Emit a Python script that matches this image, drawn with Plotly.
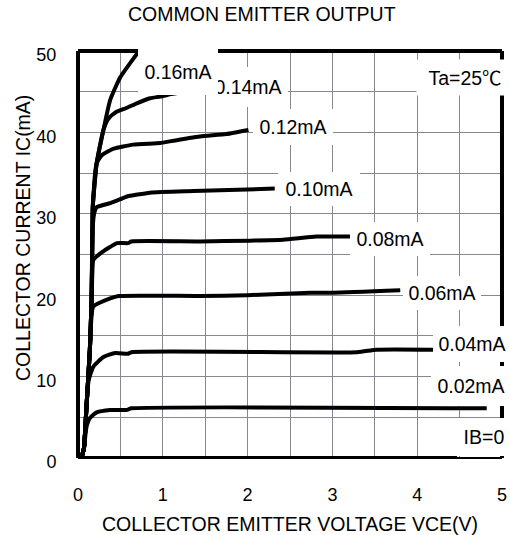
import plotly.graph_objects as go

# ---- data (VCE in V, IC in mA) ----
ib_labels = ["0.16mA", "0.14mA", "0.12mA", "0.10mA", "0.08mA", "0.06mA", "0.04mA", "0.02mA", "IB=0"]

vce_016 = [0.04, 0.07, 0.10, 0.14, 0.16, 0.17, 0.175, 0.22, 0.30, 0.38, 0.50, 0.67, 0.72]
ic_016 = [0.0, 1.2, 6.3, 13.3, 19.4, 27.6, 31.0, 36.2, 40.3, 44.0, 46.8, 49.3, 50.0]

vce_014 = [0.04, 0.07, 0.10, 0.14, 0.16, 0.17, 0.175, 0.22, 0.30, 0.36, 0.45, 0.57, 0.70, 0.85, 0.97, 1.10, 1.26]
ic_014 = [0.0, 1.2, 6.3, 13.3, 19.4, 27.6, 31.0, 36.2, 40.3, 41.7, 42.5, 43.0, 43.6, 44.2, 44.4, 44.7, 45.0]

vce_012 = [0.04, 0.07, 0.10, 0.14, 0.16, 0.17, 0.175, 0.22, 0.28, 0.42, 0.65, 0.97, 1.08, 1.44, 1.75, 2.01]
ic_012 = [0.0, 1.2, 6.3, 13.3, 19.4, 27.6, 31.0, 36.2, 37.2, 38.0, 38.5, 38.7, 38.9, 39.5, 39.8, 40.3]

vce_010 = [0.04, 0.07, 0.10, 0.14, 0.16, 0.17, 0.19, 0.22, 0.38, 0.50, 0.57, 0.85, 1.36, 2.32]
ic_010 = [0.0, 1.2, 6.3, 13.3, 19.4, 27.6, 30.0, 30.8, 31.3, 31.8, 32.1, 32.6, 32.8, 33.1]

vce_008 = [0.04, 0.07, 0.10, 0.14, 0.16, 0.17, 0.18, 0.26, 0.46, 0.59, 0.63, 1.44, 2.03, 2.42, 2.81, 3.21]
ic_008 = [0.0, 1.2, 6.3, 13.3, 19.4, 23.0, 24.3, 25.1, 26.4, 26.4, 26.6, 26.6, 26.7, 26.8, 27.2, 27.2]

vce_006 = [0.04, 0.07, 0.10, 0.14, 0.16, 0.18, 0.38, 0.48, 1.44, 2.00, 2.74, 3.01, 3.80]
ic_006 = [0.0, 1.2, 6.3, 13.3, 17.5, 18.6, 19.6, 19.9, 19.9, 20.0, 20.3, 20.3, 20.6]

vce_004 = [0.04, 0.07, 0.10, 0.125, 0.18, 0.30, 0.44, 0.59, 0.63, 3.29, 3.52, 4.19]
ic_004 = [0.0, 1.2, 6.3, 9.5, 11.2, 12.4, 12.9, 12.8, 13.0, 13.0, 13.3, 13.3]

vce_002 = [0.04, 0.07, 0.10, 0.14, 0.22, 0.38, 0.57, 0.63, 4.82]
ic_002 = [0.0, 1.2, 3.8, 4.9, 5.6, 5.9, 5.9, 6.1, 6.1]

vce_000 = [0.0, 4.47]
ic_000 = [0.0, 0.0]

# label anchor positions (V, mA)
label_x = [1.179, 2.005, 2.535, 2.842, 3.679, 4.292, 4.646, 4.634, 4.788]
label_y = [47.48, 45.58, 40.66, 33.05, 26.90, 20.27, 14.00, 8.85, 2.58]

# grid every 0.5 V / 5 mA, labels on whole numbers only
x_tickvals = [0, 0.5, 1, 1.5, 2, 2.5, 3, 3.5, 4, 4.5, 5]
x_ticktext = ["0", "", "1", "", "2", "", "3", "", "4", "", "5"]
y_tickvals = [0, 5, 10, 15, 20, 25, 30, 35, 40, 45, 50]
y_ticktext = ["0", "", "10", "", "20", "", "30", "", "40", "", "50"]

FONT = "Liberation Sans, Arial, Noto Sans CJK JP, sans-serif"
GRID = "rgb(135,135,145)"

curves = [
    (vce_016, ic_016), (vce_014, ic_014), (vce_012, ic_012), (vce_010, ic_010),
    (vce_008, ic_008), (vce_006, ic_006), (vce_004, ic_004), (vce_002, ic_002),
    (vce_000, ic_000),
]

fig = go.Figure()
for (vx, iy), name in zip(curves, ib_labels):
    fig.add_trace(go.Scatter(
        x=vx, y=iy, mode="lines", name=name,
        line=dict(color="black", width=4, shape="spline", smoothing=0.5),
        showlegend=False, hoverinfo="skip",
    ))

box_w = [80, 80, 80, 82, 80, 78, 78, 80, 52]
box_h = [47, 40, 36, 34, 34, 34, 36, 40, 38]

annotations = []
order = [1, 0, 2, 3, 4, 5, 6, 7, 8]   # 0.16 box drawn over the 0.14 box
for k in order:
    annotations.append(dict(
        x=label_x[k], y=label_y[k], xref="x", yref="y", text=ib_labels[k],
        showarrow=False, bgcolor="white", width=box_w[k], height=box_h[k],
        borderpad=0, borderwidth=0, xanchor="center", yanchor="middle",
        font=dict(family=FONT, size=19.5, color="black"),
    ))

annotations.append(dict(
    x=4.564, y=46.74, xref="x", yref="y", text="Ta=25℃", showarrow=False,
    bgcolor="white", width=96, height=35, borderpad=0, xanchor="center", yanchor="middle",
    font=dict(family=FONT, size=19.5, color="black"),
))
annotations.append(dict(
    x=0.435, y=1.0897, xref="paper", yref="paper", text="COMMON EMITTER OUTPUT",
    showarrow=False, xanchor="center", yanchor="middle",
    font=dict(family=FONT, size=19.5, color="black"),
))
annotations.append(dict(
    x=0.5, y=-0.162, xref="paper", yref="paper", text="COLLECTOR EMITTER VOLTAGE VCE(V)",
    showarrow=False, xanchor="center", yanchor="middle",
    font=dict(family=FONT, size=19.5, color="black"),
))
annotations.append(dict(
    x=-0.1297, y=0.5405, xref="paper", yref="paper", text="COLLECTOR CURRENT IC(mA)",
    showarrow=False, xanchor="center", yanchor="middle", textangle=-90,
    font=dict(family=FONT, size=19.5, color="black"),
))

shapes = [
    dict(type="line", xref="paper", yref="paper", x0=0, x1=0, y0=0, y1=1, line=dict(color="black", width=4), layer="above"),
    dict(type="line", xref="paper", yref="paper", x0=0, x1=1, y0=1, y1=1, line=dict(color="black", width=4), layer="above"),
    dict(type="line", xref="paper", yref="paper", x0=1, x1=1, y0=0, y1=1, line=dict(color="black", width=4), layer="above"),
    dict(type="line", xref="paper", yref="paper", x0=0, x1=1, y0=0, y1=0, line=dict(color="black", width=2), layer="above"),
]

fig.update_layout(
    template="none",
    width=510, height=535,
    margin=dict(l=78, r=8, t=51, b=77, pad=0),
    paper_bgcolor="white", plot_bgcolor="white",
    annotations=annotations, shapes=shapes,
    font=dict(family=FONT, color="black"),
    xaxis=dict(range=[0, 5], tickmode="array", tickvals=x_tickvals, ticktext=x_ticktext,
               showgrid=True, gridcolor=GRID, gridwidth=1.2, zeroline=False,
               ticks="outside", ticklen=20, tickcolor="rgba(255,255,255,0)",
               tickfont=dict(family=FONT, size=18, color="black")),
    yaxis=dict(range=[0, 50], tickmode="array", tickvals=y_tickvals, ticktext=y_ticktext,
               showgrid=True, gridcolor=GRID, gridwidth=1.2, zeroline=False,
               ticks="outside", ticklen=17, tickcolor="rgba(255,255,255,0)",
               ticklabelshift=4,
               tickfont=dict(family=FONT, size=18, color="black")),
)

fig.write_html("out.html", config={"displayModeBar": False},
               post_script="document.body.style.margin='0px';")
